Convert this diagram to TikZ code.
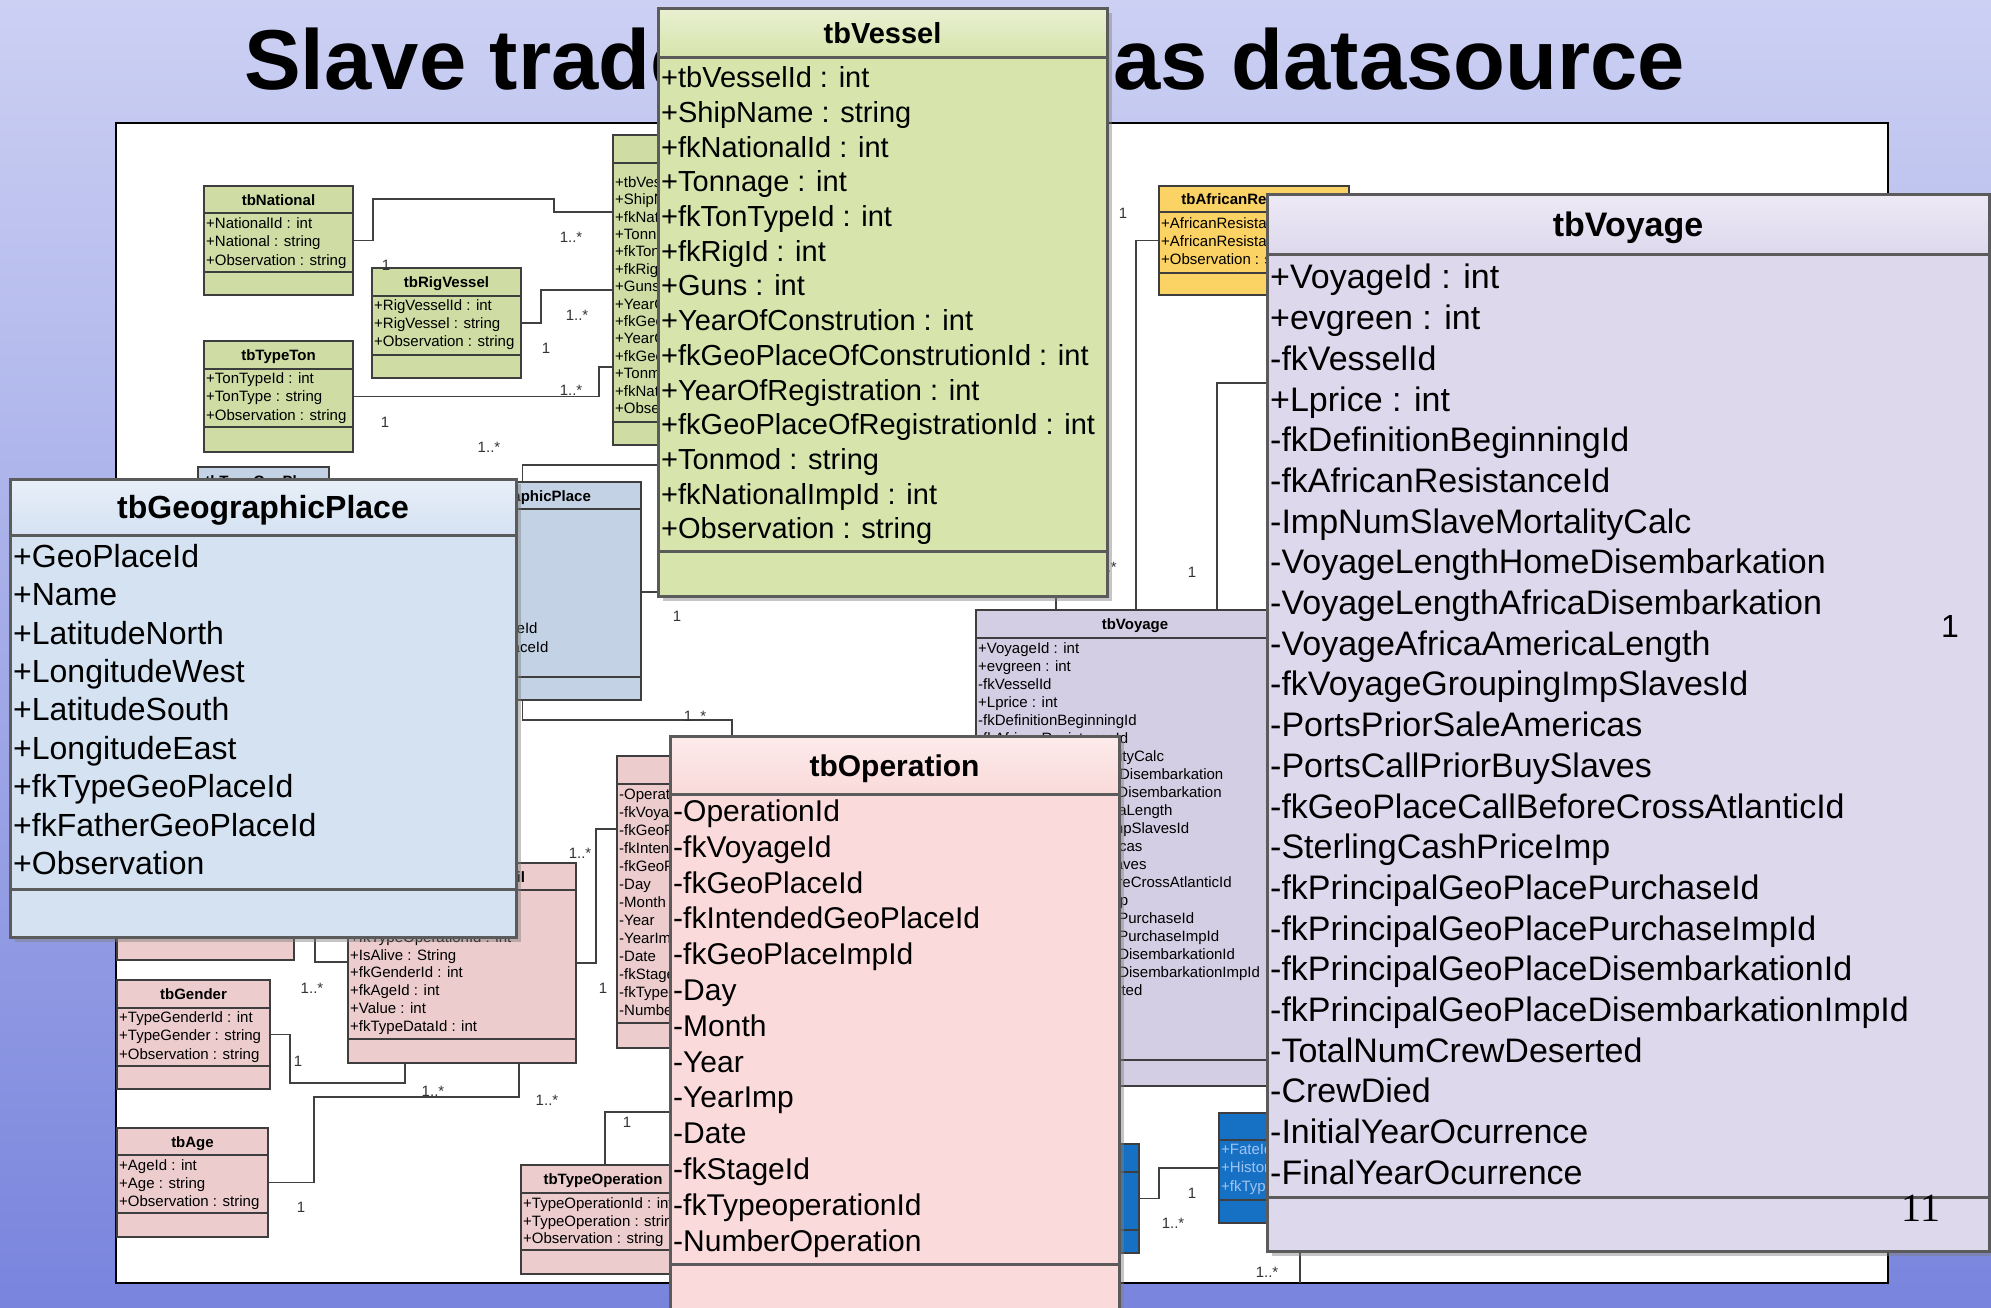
\documentclass[tikz,border=0pt]{standalone}
\usepackage{fontspec}
\setmainfont{Liberation Sans}
\newfontfamily\slidenumfont{Liberation Serif}
\usetikzlibrary{shadows}

\definecolor{bgtop}{RGB}{204,208,243}
\definecolor{bgmid}{RGB}{168,176,234}
\definecolor{bgbot}{RGB}{121,133,221}
\definecolor{clsline}{RGB}{62,62,62}
\definecolor{riggreen}{RGB}{207,220,163}
\definecolor{vesgreen}{RGB}{215,228,172}
\definecolor{geoblue}{RGB}{213,226,242}
\definecolor{geogrey}{RGB}{195,210,228}
\definecolor{oppink}{RGB}{250,218,218}
\definecolor{oprose}{RGB}{236,204,204}
\definecolor{voylav}{RGB}{222,216,237}
\definecolor{voylilac}{RGB}{212,206,228}
\definecolor{afryellow}{RGB}{251,210,100}
\definecolor{fateblue}{RGB}{22,112,196}
\definecolor{fatetext}{RGB}{160,196,242}

\tikzset{
  smallcls/.style={draw=clsline, line width=1.8pt, anchor=north west, inner sep=0pt, outer sep=0pt},
  bigcls/.style={draw=clsline!85, line width=3pt, anchor=north west, inner sep=0pt, outer sep=0pt,
    drop shadow={shadow xshift=5pt, shadow yshift=-5pt, opacity=.45}},
  smallrule/.style={draw=clsline, line width=1.8pt},
  bigrule/.style={draw=clsline!85, line width=3pt},
  attr/.style={font=\fontsize{#1}{#1}\selectfont, anchor=base west, inner sep=0pt},
  attr/.default=15,
  hdr/.style={font=\fontsize{#1}{#1}\selectfont\bfseries, anchor=base, inner sep=0pt},
  hdr/.default=15,
  mult/.style={font=\fontsize{15}{15}\selectfont, text=black!80, inner sep=0pt},
  link/.style={draw=black!75, line width=1.5pt},
}

% name, fill, x1, y1, x2, y2, header rule, divider
\newcommand\smallbox[8]{%
  \node[smallcls, fill=#2, minimum width=#5pt-#3pt, minimum height=#6pt-#4pt] (#1) at (#3,#4) {};
  \draw[smallrule] (#3,#7) -- (#5,#7) (#3,#8) -- (#5,#8);}
\newcommand\bigbox[8]{%
  \node[bigcls, fill=#2, minimum width=#5pt-#3pt, minimum height=#6pt-#4pt] (#1) at (#3,#4) {};
  \shade[top color=white!45!#2, bottom color=#2] (#3,#4) rectangle (#5,#7);
  \draw[bigrule] (#1.north west) rectangle (#1.south east) (#3,#7) -- (#5,#7) (#3,#8) -- (#5,#8);}
% prefix, style, x, first baseline, pitch, entries
\newcommand\attrlist[6]{%
  \foreach \entry [count=\idx from 0] in {#6}
    \node[#2] (#1-\idx) at (#3,{#4+\idx*#5}) {\entry};}

\begin{document}
\begin{tikzpicture}[x=1pt, y=-1pt]
  \path[use as bounding box, clip] (0,0) rectangle (1991,1307);
  \shade[top color=bgtop, middle color=bgmid, bottom color=bgbot] (0,0) rectangle (1991,1307);

  \node[font=\fontsize{85}{85}\selectfont\bfseries, anchor=base west, inner sep=0pt] (title)
    at (244,89) {Slave trade database as datasource};

  \node[draw=black, line width=2pt, fill=white, anchor=north west, inner sep=0pt, outer sep=0pt,
    minimum width=1772pt, minimum height=1160pt] (sheet) at (116,123) {};

  % the diagram underneath
  \smallbox{nat}{riggreen}{204}{186}{353}{295}{213}{272}
  \node[hdr] (nat-title) at (278.5,205) {tbNational};
  \attrlist{nat}{attr}{206}{228.6}{18.3}{+NationalId : int, +National : string, +Observation : string}

  \smallbox{rig}{riggreen}{372}{268}{521}{378}{296}{355}
  \node[hdr] (rig-title) at (446.5,287.4) {tbRigVessel};
  \attrlist{rig}{attr}{374}{310.3}{18.3}{+RigVesselId : int, +RigVessel : string, +Observation : string}

  \smallbox{ton}{riggreen}{204}{341}{353}{452}{369}{427}
  \node[hdr] (ton-title) at (278.5,360.4) {tbTypeTon};
  \attrlist{ton}{attr}{206}{383.6}{18.3}{+TonTypeId : int, +TonType : string, +Observation : string}

  \smallbox{svessel}{riggreen}{613}{135}{860}{445}{163}{422}
  \attrlist{svessel}{attr}{615}{187.3}{17.4}{+tbVesselId : int, +ShipName : string, +fkNationalId : int,
    +Tonnage : int, +fkTonTypeId : int, +fkRigId : int, +Guns : int, +YearOfConstrution : int,
    +fkGeoPlaceOfConstrutionId : int, +YearOfRegistration : int, +fkGeoPlaceOfRegistrationId : int,
    +Tonmod : string, +fkNationalImpId : int, +Observation : string}

  \smallbox{stype}{geogrey}{198}{467}{329}{580}{495}{560}
  \node[hdr] (stype-title) at (263.5,486.4) {tbTypeGeoPlace};

  \smallbox{sgeo}{geogrey}{404}{482}{641}{700}{509}{677}
  \node[hdr] (sgeo-title) at (522.5,501) {tbGeographicPlace};
  \attrlist{sgeo}{attr}{406}{523.3}{18.4}{+GeoPlaceId, +Name, +LatitudeNorth, +LongitudeWest,
    +LatitudeSouth, +LongitudeEast, +fkTypeGeoPlaceId, +fkFatherGeoPlaceId, +Observation}

  \smallbox{stypedata}{oprose}{117}{840}{294}{960}{870}{937}

  \smallbox{sdetail}{oprose}{348}{863}{576}{1063}{890}{1039}
  \node[hdr] (sdetail-title) at (462,882) {tbOperationDetail};
  \attrlist{sdetail}{attr}{350}{942.3}{17.8}{+fkTypeOperationId : int, +IsAlive : String,
    +fkGenderId : int, +fkAgeId : int, +Value : int, +fkTypeDataId : int}

  \smallbox{gender}{oprose}{117}{980}{270}{1089}{1008}{1066}
  \node[hdr] (gender-title) at (193.5,999.4) {tbGender};
  \attrlist{gender}{attr}{119}{1022.6}{18.3}{+TypeGenderId : int, +TypeGender : string, +Observation : string}

  \smallbox{age}{oprose}{117}{1128}{268}{1237}{1155}{1213}
  \node[hdr] (age-title) at (192.5,1147) {tbAge};
  \attrlist{age}{attr}{119}{1170.3}{18.3}{+AgeId : int, +Age : string, +Observation : string}

  \smallbox{typeop}{oprose}{521}{1165}{685}{1274}{1193}{1250}
  \node[hdr] (typeop-title) at (603,1184.4) {tbTypeOperation};
  \attrlist{typeop}{attr}{523}{1208.3}{17.7}{+TypeOperationId : int, +TypeOperation : string, +Observation : string}

  \smallbox{soper}{oprose}{617}{756}{830}{1048}{784}{1023}
  \attrlist{soper}{attr}{619}{799.3}{18}{-OperationId, -fkVoyageId, -fkGeoPlaceId, -fkIntendedGeoPlaceId,
    -fkGeoPlaceImpId, -Day, -Month, -Year, -YearImp, -Date, -fkStageId, -fkTypeoperationId, -NumberOperation}

  \smallbox{svoy}{voylilac}{976}{610}{1294}{1086}{638}{1060}
  \node[hdr] (svoy-title) at (1135,629.4) {tbVoyage};
  \attrlist{svoy}{attr}{978}{653.3}{18}{+VoyageId : int, +evgreen : int, -fkVesselId, +Lprice : int,
    -fkDefinitionBeginningId, -fkAfricanResistanceId, -ImpNumSlaveMortalityCalc,
    -VoyageLengthHomeDisembarkation, -VoyageLengthAfricaDisembarkation, -VoyageAfricaAmericaLength,
    -fkVoyageGroupingImpSlavesId, -PortsPriorSaleAmericas, -PortsCallPriorBuySlaves,
    -fkGeoPlaceCallBeforeCrossAtlanticId, -SterlingCashPriceImp, -fkPrincipalGeoPlacePurchaseId,
    -fkPrincipalGeoPlacePurchaseImpId, -fkPrincipalGeoPlaceDisembarkationId,
    -fkPrincipalGeoPlaceDisembarkationImpId, -TotalNumCrewDeserted, -CrewDied,
    -InitialYearOcurrence, -FinalYearOcurrence}

  \smallbox{afr}{afryellow}{1159}{186}{1349}{295}{212}{273}
  \node[hdr] (afr-title) at (1254,204.4) {tbAfricanResistance};
  \attrlist{afr}{attr}{1161}{228.3}{18}{+AfricanResistanceId : int, +AfricanResistance : string, +Observation : string}

  \smallbox{blue1}{fateblue}{1000}{1144}{1139}{1253}{1172}{1230}
  \smallbox{blue2}{fateblue}{1219}{1113}{1400}{1223}{1140}{1200}
  \attrlist{blue2}{attr, text=fatetext}{1221}{1154.3}{18.5}{+FateId : int, +History : string, +fkTypeFateId : int}

  % connectors
  \coordinate (hid-voy) at (1320,383);
  \coordinate (hid-bot) at (1300,1240);
  \draw[link] (nat.east) -- ++(20,0) |- (554,199) |- (svessel.west |- 0,212);
  \draw[link] (rig.east) -- ++(20,0) |- (svessel.west |- 0,290);
  \draw[link] (ton.east) -| (599,367) -- (svessel.west |- 0,367);
  \draw[link] (sgeo.north) |- (690,465) -- (svessel.south -| 690,0);
  \draw[link] (sgeo.east |- 0,592) -- (720,592) -- (svessel.south -| 720,0);
  \draw[link] (sgeo.south) |- (732,720) -- (soper.north -| 732,0);
  \draw[link] (svessel.east) -| (svoy.north -| 1056,0);
  \draw[link] (afr.west) -| (svoy.north -| 1136,0);
  \draw[link] (hid-voy) -| (svoy.north -| 1217,0);
  \draw[link] (sdetail.east |- 0,963) -| (596,829) -- (soper.west |- 0,829);
  \draw[link] (stypedata.east) -| (315,962) -- (sdetail.west |- 0,962);
  \draw[link] (gender.east) -| (290,1083) -| (sdetail.south -| 405,0);
  \draw[link] (age.east) -| (314,1097) -| (sdetail.south -| 519,0);
  \draw[link] (typeop.north -| 605,0) |- (700,1112) -- (soper.south -| 700,0);
  \draw[link] (blue1.east) -| (1159,1168) -- (blue2.west |- 0,1168);
  \draw[link] (hid-bot) -- (sheet.south -| 1300,0);

  \foreach \mx/\my/\mt [count=\n] in {571/237/1..*, 386/265/1, 577/315/1..*, 546/348/1,
      571/390/1..*, 385/422/1, 489/447/1..*, 677/616/1, 1123/213/1, 1192/572/1, 695/716/1..*,
      580/853/1..*, 603/988/1, 312/988/1..*, 298/1061/1, 301/1207/1, 433/1091/1..*,
      547/1100/1..*, 627/1122/1, 1192/1193/1, 1173/1223/1..*, 1267/1272/1..*}
    \node[mult] (mult-\n) at (\mx,\my) {\mt};
  \node[mult, anchor=east] (mult-voy) at (1117,567) {1..*};

  % magnified classes on top
  \bigbox{bvessel}{vesgreen}{658}{8}{1107}{596}{57}{551}
  \node[hdr=29] (bvessel-title) at (882.5,43) {tbVessel};
  \attrlist{bvessel}{attr=29}{661}{87.7}{34.7}{+tbVesselId : int, +ShipName : string, +fkNationalId : int,
    +Tonnage : int, +fkTonTypeId : int, +fkRigId : int, +Guns : int, +YearOfConstrution : int,
    +fkGeoPlaceOfConstrutionId : int, +YearOfRegistration : int, +fkGeoPlaceOfRegistrationId : int,
    +Tonmod : string, +fkNationalImpId : int, +Observation : string}

  \bigbox{bgeo}{geoblue}{10}{479}{516}{937}{535}{889}
  \node[hdr=32] (bgeo-title) at (263,518.5) {tbGeographicPlace};
  \attrlist{bgeo}{attr=32}{13}{567.2}{38.4}{+GeoPlaceId, +Name, +LatitudeNorth, +LongitudeWest,
    +LatitudeSouth, +LongitudeEast, +fkTypeGeoPlaceId, +fkFatherGeoPlaceId, +Observation}

  \bigbox{boper}{oppink}{670}{736}{1119}{1330}{794}{1264}
  \node[hdr=30] (boper-title) at (894.5,776) {tbOperation};
  \attrlist{boper}{attr=30}{673}{821.5}{35.8}{-OperationId, -fkVoyageId, -fkGeoPlaceId, -fkIntendedGeoPlaceId,
    -fkGeoPlaceImpId, -Day, -Month, -Year, -YearImp, -Date, -fkStageId, -fkTypeoperationId, -NumberOperation}

  \bigbox{bvoy}{voylav}{1267}{194}{1989}{1251}{254}{1197}
  \node[hdr=34] (bvoy-title) at (1628,236) {tbVoyage};
  \attrlist{bvoy}{attr=34}{1270}{288.9}{40.7}{+VoyageId : int, +evgreen : int, -fkVesselId, +Lprice : int,
    -fkDefinitionBeginningId, -fkAfricanResistanceId, -ImpNumSlaveMortalityCalc,
    -VoyageLengthHomeDisembarkation, -VoyageLengthAfricaDisembarkation, -VoyageAfricaAmericaLength,
    -fkVoyageGroupingImpSlavesId, -PortsPriorSaleAmericas, -PortsCallPriorBuySlaves,
    -fkGeoPlaceCallBeforeCrossAtlanticId, -SterlingCashPriceImp, -fkPrincipalGeoPlacePurchaseId,
    -fkPrincipalGeoPlacePurchaseImpId, -fkPrincipalGeoPlaceDisembarkationId,
    -fkPrincipalGeoPlaceDisembarkationImpId, -TotalNumCrewDeserted, -CrewDied,
    -InitialYearOcurrence, -FinalYearOcurrence}
  \node[font=\fontsize{32}{32}\selectfont, anchor=base, inner sep=0pt] (bvoy-mult) at (1950,637.5) {1};

  \node[font=\slidenumfont\fontsize{40}{40}\selectfont, anchor=base, inner sep=0pt] (slidenum)
    at (1921,1221) {11};
\end{tikzpicture}
\end{document}
